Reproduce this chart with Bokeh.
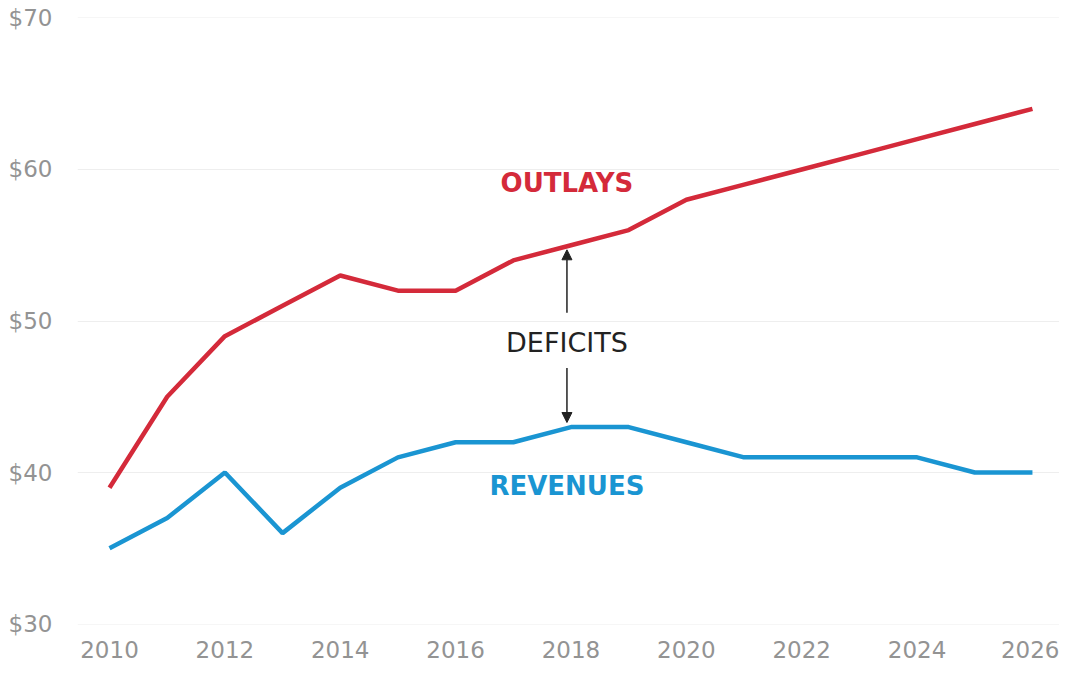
from bokeh.plotting import figure
from bokeh.embed import file_html
from bokeh.resources import INLINE
from bokeh.models import Arrow, NormalHead, Label, FixedTicker, CustomJSTickFormatter

years = list(range(2010, 2027))
outlays = [39, 45, 49, 51, 53, 52, 52, 54, 55, 56, 58, 59, 60, 61, 62, 63, 64]
revenues = [35, 37, 40, 36, 39, 41, 42, 42, 43, 43, 42, 41, 41, 41, 41, 40, 40]
x_ticks = list(range(2010, 2027, 2))
y_ticks = [30, 40, 50, 60, 70]

label_x = 2017.93
outlays_label_y = 59.1
revenues_label_y = 39.1
deficits_label_y = 48.6
arrow_up = (50.55, 54.7)
arrow_down = (46.9, 43.3)

RED = "#d42a3a"
BLUE = "#1a95d2"
FONT = "DejaVu Sans"

p = figure(width=1059, height=662, output_backend="svg", toolbar_location=None,
           x_range=(2009.445, 2026.469), y_range=(29.97, 70.03),
           min_border_left=77, min_border_right=0, min_border_top=17, min_border_bottom=38)
p.outline_line_color = None
p.background_fill_color = "white"

p.line(years, outlays, line_color=RED, line_width=4.5)
p.line(years, revenues, line_color=BLUE, line_width=4.5)

p.xaxis.ticker = FixedTicker(ticks=x_ticks)
p.yaxis.ticker = FixedTicker(ticks=y_ticks)
p.yaxis.formatter = CustomJSTickFormatter(code="return '$' + tick;")
for ax in (p.xaxis, p.yaxis):
    ax.axis_line_color = None
    ax.major_tick_line_color = None
    ax.minor_tick_line_color = None
    ax.major_label_text_color = "#939393"
    ax.major_label_text_font = FONT
    ax.major_label_text_font_size = "23px"
p.xaxis.major_label_standoff = 10
p.yaxis.major_label_standoff = 19

p.xgrid.grid_line_color = None
p.ygrid.grid_line_color = "#eeeeee"
p.ygrid.grid_line_width = 1.2

p.add_layout(Label(x=label_x, y=outlays_label_y, text="OUTLAYS", text_align="center",
                   text_baseline="middle", text_color=RED, text_font=FONT,
                   text_font_style="bold", text_font_size="26px"))
p.add_layout(Label(x=label_x, y=revenues_label_y, text="REVENUES", text_align="center",
                   text_baseline="middle", text_color=BLUE, text_font=FONT,
                   text_font_style="bold", text_font_size="26px"))
p.add_layout(Label(x=label_x, y=deficits_label_y, text="DEFICITS", text_align="center",
                   text_baseline="middle", text_color="#222222", text_font=FONT,
                   text_font_size="27px"))

for y0, y1 in (arrow_up, arrow_down):
    p.add_layout(Arrow(x_start=label_x, y_start=y0, x_end=label_x, y_end=y1,
                       line_color="#222222", line_width=1.5,
                       end=NormalHead(size=10, fill_color="#222222", line_color="#222222")))

open("out.html", "w").write(file_html(p, INLINE))
